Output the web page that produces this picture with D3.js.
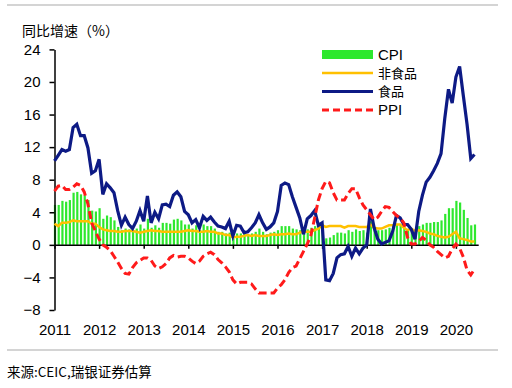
<!DOCTYPE html>
<html>
<head>
<meta charset="utf-8">
<script src="https://cdn.jsdelivr.net/npm/d3@7/dist/d3.min.js"></script>
<style>
  body { margin: 0; background: #fff; }
  svg { display: block; }
</style>
</head>
<body>
<div id="chart"></div>
<script>
// monthly data, Jan 2011 .. Jun 2020
let years = [2011, 2012, 2013, 2014, 2015, 2016, 2017, 2018, 2019, 2020]
let yTicks = [-8, -4, 0, 4, 8, 12, 16, 20, 24]
let seriesNames = ["CPI", "非食品", "食品", "PPI"]

let cpi = [
  4.9, 4.9, 5.4, 5.3, 5.5, 6.4, 6.5, 6.2, 6.1, 5.5, 4.2, 4.1,
  4.5, 3.2, 3.6, 3.4, 3.0, 2.2, 1.8, 2.0, 1.9, 1.7, 2.0, 2.5,
  2.0, 3.2, 2.1, 2.4, 2.1, 2.7, 2.7, 2.6, 3.1, 3.2, 3.0, 2.5,
  2.5, 2.0, 2.4, 1.8, 2.5, 2.3, 2.3, 2.0, 1.6, 1.6, 1.4, 1.5,
  0.8, 1.4, 1.4, 1.5, 1.2, 1.4, 1.6, 2.0, 1.6, 1.3, 1.5, 1.6,
  1.8, 2.3, 2.3, 2.3, 2.0, 1.9, 1.8, 1.3, 1.9, 2.1, 2.3, 2.1,
  2.5, 0.8, 0.9, 1.2, 1.5, 1.5, 1.4, 1.8, 1.6, 1.9, 1.7, 1.8,
  1.5, 2.9, 2.1, 1.8, 1.8, 1.9, 2.1, 2.3, 2.5, 2.5, 2.2, 1.9,
  1.7, 1.5, 2.3, 2.5, 2.7, 2.7, 2.8, 2.8, 3.0, 3.8, 4.5, 4.5,
  5.4, 5.2, 4.3, 3.3, 2.4, 2.5
]

let nonFood = [
  2.6, 2.3, 2.7, 2.7, 2.8, 3.0, 2.9, 2.9, 2.9, 2.9, 2.6, 2.6,
  2.2, 1.9, 1.8, 1.7, 1.7, 1.6, 1.6, 1.7, 1.7, 1.7, 1.6, 1.5,
  1.6, 1.7, 1.8, 1.7, 1.7, 1.6, 1.6, 1.6, 1.6, 1.6, 1.6, 1.7,
  1.8, 1.7, 1.7, 1.6, 1.6, 1.7, 1.6, 1.6, 1.4, 1.4, 1.2, 1.2,
  0.9, 1.0, 1.0, 1.1, 1.2, 1.1, 1.2, 1.1, 1.1, 1.1, 1.2, 1.3,
  1.2, 1.3, 1.3, 1.4, 1.3, 1.3, 1.5, 1.6, 1.6, 1.6, 1.8, 2.0,
  2.4, 2.2, 2.3, 2.3, 2.3, 2.3, 2.1, 2.3, 2.3, 2.3, 2.2, 2.2,
  2.2, 2.5, 2.1, 2.0, 2.0, 2.2, 2.4, 2.4, 2.5, 2.5, 2.1, 1.8,
  2.0, 1.7, 1.8, 1.7, 1.6, 1.4, 1.3, 1.1, 1.0, 0.9, 1.0, 1.3,
  1.6, 0.8, 0.7, 0.6, 0.4, 0.4
]

let food = [
  10.3, 11.0, 11.7, 11.5, 11.7, 14.4, 14.8, 13.4, 13.4, 11.9, 8.8, 9.1,
  10.5, 6.2, 7.5, 7.0, 6.4, 4.2, 2.4, 3.4, 2.5, 2.0, 2.9, 4.2,
  2.9, 6.0, 2.7, 4.0, 3.2, 4.9, 5.0, 4.7, 6.1, 6.5, 5.9, 4.1,
  3.7, 2.7, 3.1, 2.1, 3.5, 3.0, 3.4, 2.8, 2.3, 2.2, 2.0, 2.9,
  1.1, 2.4, 2.3, 1.5, 1.6, 2.1, 2.7, 3.7, 2.7, 1.9, 2.2, 2.7,
  4.1, 7.3, 7.6, 7.4, 5.9, 4.6, 3.3, 1.3, 3.2, 3.6, 4.2, 2.4,
  2.7, -4.3, -4.4, -3.5, -1.6, -1.2, -1.1, -0.2, -1.4, -0.4, -1.1, -0.4,
  0.0, 4.4, 2.1, 0.7, 0.1, 0.3, 0.5, 1.7, 3.6, 3.3, 2.5, 2.5,
  1.9, 0.7, 4.1, 6.1, 7.7, 8.3, 9.1, 10.0, 11.2, 15.5, 19.1, 17.4,
  20.6, 21.9, 18.3, 14.8, 10.6, 11.1
]

let ppi = [
  6.6, 7.2, 7.3, 6.8, 6.8, 7.1, 7.5, 7.3, 6.5, 5.0, 2.7, 1.7,
  0.7, 0.0, -0.3, -0.7, -1.4, -2.1, -2.9, -3.5, -3.6, -2.8, -2.2, -1.9,
  -1.6, -1.6, -1.9, -2.6, -2.9, -2.7, -2.3, -1.6, -1.3, -1.5, -1.4, -1.4,
  -1.6, -2.0, -2.3, -2.0, -1.4, -1.1, -0.9, -1.2, -1.8, -2.2, -2.7, -3.3,
  -4.3, -4.8, -4.6, -4.6, -4.6, -4.8, -5.4, -5.9, -5.9, -5.9, -5.9, -5.9,
  -5.3, -4.9, -4.3, -3.4, -2.8, -2.6, -1.7, -0.8, 0.1, 1.2, 3.3, 5.5,
  6.9, 7.8, 7.6, 6.4, 5.5, 5.5, 5.5, 6.3, 6.9, 6.9, 5.8, 4.9,
  4.3, 3.7, 3.1, 3.4, 4.1, 4.7, 4.6, 4.1, 3.6, 3.3, 2.7, 0.9,
  0.1, 0.1, 0.4, 0.9, 0.6, 0.0, -0.3, -0.8, -1.2, -1.6, -1.4, -0.5,
  0.1, -0.4, -1.5, -3.1, -3.7, -3.0
]

let colors = ["#2ee82e", "#ffc000", "#0d1a85", "#ff1a1a"]

let width = 512, height = 388
let margin = {top: 49, right: 34, bottom: 78, left: 54.5}

let svg = d3.select("#chart").append("svg")
  .attr("width", width)
  .attr("height", height)
  .style("font-family", "'Liberation Sans', Arial, sans-serif")

// month index -> fractional year
let t = function(i){ return 2011 + i / 12 }

let xScale = d3.scaleLinear()
  .domain([2011, 2020.5])
  .range([margin.left, margin.left + 9.5 * 44.6])

let yScale = d3.scaleLinear()
  .domain([-8, 24])
  .range([310, 49.4])

// frame lines
svg.append("line").attr("x1", 7).attr("x2", 498).attr("y1", 5).attr("y2", 5)
  .attr("stroke", "#d4d4d4").attr("stroke-width", 2)
svg.append("line").attr("x1", 7).attr("x2", 498).attr("y1", 350).attr("y2", 350)
  .attr("stroke", "#d4d4d4").attr("stroke-width", 2)

svg.append("text")
  .attr("x", 22).attr("y", 36)
  .style("font-family", "'Noto Sans CJK SC', sans-serif")
  .style("font-size", "14px")
  .text("同比增速（%）")

// bars (CPI)
svg.append("g").selectAll("rect").data(cpi).enter()
  .append("rect")
  .attr("x", function(d, i){ return xScale(t(i)) - 0.6 })
  .attr("width", 2.2)
  .attr("y", function(d){ return Math.min(yScale(d), yScale(0)) })
  .attr("height", function(d){ return Math.abs(yScale(d) - yScale(0)) })
  .style("fill", colors[0])

// y axis
let yAxis = d3.axisLeft(yScale).tickValues(yTicks).tickSize(5).tickPadding(9).tickSizeOuter(0)
let yG = svg.append("g").attr("transform", "translate(" + margin.left + ",0)").call(yAxis)
yG.selectAll("text").style("font-size", "15px").attr("fill", "#000")
yG.selectAll("line, path").attr("stroke", "#000").attr("stroke-width", 1.5)

// x axis at zero, ticks only
let xAxis = d3.axisBottom(xScale).tickValues(years).tickSize(4).tickSizeOuter(0).tickFormat("")
let xG = svg.append("g").attr("transform", "translate(0," + yScale(0) + ")").call(xAxis)
xG.selectAll("line, path").attr("stroke", "#000").attr("stroke-width", 1.5)

// year labels at bottom
let xLab = d3.axisBottom(xScale).tickValues(years).tickSize(0).tickPadding(14).tickFormat(d3.format("d"))
let xlG = svg.append("g").attr("transform", "translate(0," + yScale(-8) + ")").call(xLab)
xlG.select(".domain").remove()
xlG.selectAll("text").style("font-size", "15px").attr("fill", "#000")

let line = d3.line()
  .x(function(d, i){ return xScale(t(i)) })
  .y(function(d){ return yScale(d) })

svg.append("path").datum(nonFood).attr("d", line)
  .attr("fill", "none").attr("stroke", colors[1]).attr("stroke-width", 2.5)
svg.append("path").datum(food).attr("d", line)
  .attr("fill", "none").attr("stroke", colors[2]).attr("stroke-width", 3.2)
svg.append("path").datum(ppi).attr("d", line)
  .attr("fill", "none").attr("stroke", colors[3]).attr("stroke-width", 3)
  .attr("stroke-dasharray", "8,4")

// legend
let lx = 322, lw = 51
let legendY = [54.5, 73, 91.5, 110]
let leg = svg.append("g")
seriesNames.forEach(function(name, i){
  let y = legendY[i]
  if (i == 0) {
    leg.append("rect").attr("x", lx).attr("y", y - 4.5).attr("width", lw).attr("height", 9)
      .style("fill", colors[0])
  } else {
    let l = leg.append("line").attr("x1", lx).attr("x2", lx + lw).attr("y1", y).attr("y2", y)
      .attr("stroke", colors[i]).attr("stroke-width", i == 1 ? 2.5 : 3)
    if (i == 3) l.attr("stroke-dasharray", "7,4")
  }
  let cjk = (i == 1 || i == 2)
  leg.append("text").attr("x", lx + 56).attr("y", y).attr("dy", "0.35em")
    .style("font-size", cjk ? "13px" : "15px")
    .style("font-family", cjk ? "'Noto Sans CJK SC', sans-serif" : "'Liberation Sans', Arial, sans-serif")
    .text(name)
})

svg.append("text")
  .attr("x", 7).attr("y", 377)
  .style("font-family", "'Noto Sans CJK SC', sans-serif")
  .style("font-size", "13.5px")
  .text("来源:CEIC,瑞银证券估算")
</script>
</body>
</html>
